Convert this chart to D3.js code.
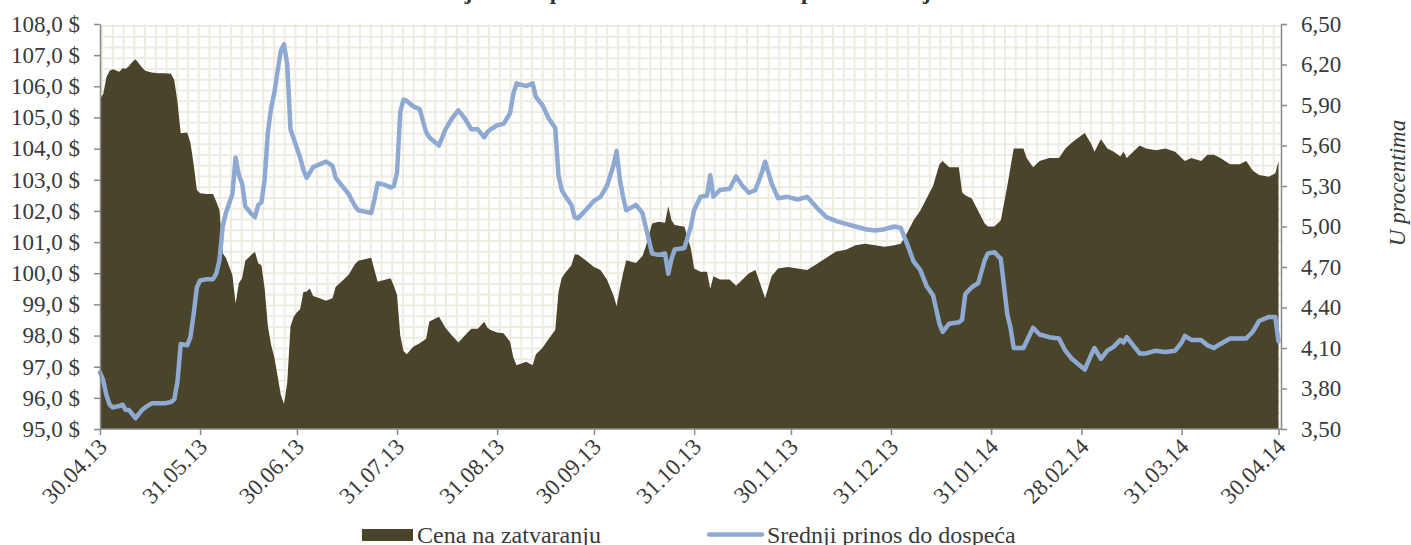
<!DOCTYPE html>
<html>
<head>
<meta charset="utf-8">
<script src="https://cdn.jsdelivr.net/npm/d3@7"></script>
<style>
  html, body { margin: 0; padding: 0; background: #fff; }
  svg { display: block; font-family: "Liberation Serif", "Times New Roman", serif; }
</style>
</head>
<body>
<svg id="chart" width="1411" height="545"></svg>
<script>
// chart data
const title = 'Kretanje cene i prinosa evroobveznice Republike Srbije';
const priceLabel = 'Cena na zatvaranju';
const yieldLabel = 'Srednji prinos do dospeća';
const rightAxisTitle = 'U procentima';

const dates = [
  '2013-04-30','2013-05-01','2013-05-02','2013-05-03','2013-05-04','2013-05-06','2013-05-07','2013-05-08','2013-05-09','2013-05-10',
  '2013-05-11','2013-05-12','2013-05-13','2013-05-14','2013-05-16','2013-05-18','2013-05-20','2013-05-22','2013-05-23','2013-05-24',
  '2013-05-25','2013-05-27','2013-05-28','2013-05-29','2013-05-30','2013-05-31','2013-06-02','2013-06-04','2013-06-05','2013-06-06',
  '2013-06-07','2013-06-08','2013-06-10','2013-06-11','2013-06-12','2013-06-13','2013-06-14','2013-06-16','2013-06-17','2013-06-18',
  '2013-06-19','2013-06-20','2013-06-21','2013-06-22','2013-06-23','2013-06-24','2013-06-25','2013-06-26','2013-06-27','2013-06-28',
  '2013-06-29','2013-06-30','2013-07-01','2013-07-02','2013-07-03','2013-07-04','2013-07-05','2013-07-07','2013-07-09','2013-07-11',
  '2013-07-12','2013-07-14','2013-07-16','2013-07-18','2013-07-19','2013-07-23','2013-07-24','2013-07-25','2013-07-27','2013-07-29',
  '2013-07-30','2013-07-31','2013-08-01','2013-08-02','2013-08-03','2013-08-05','2013-08-07','2013-08-09','2013-08-10','2013-08-13',
  '2013-08-15','2013-08-17','2013-08-19','2013-08-21','2013-08-23','2013-08-25','2013-08-27','2013-08-28','2013-08-29','2013-08-31',
  '2013-09-02','2013-09-04','2013-09-05','2013-09-06','2013-09-09','2013-09-11','2013-09-12','2013-09-14','2013-09-16','2013-09-18',
  '2013-09-19','2013-09-20','2013-09-21','2013-09-23','2013-09-24','2013-09-25','2013-09-27','2013-09-30','2013-10-02','2013-10-04',
  '2013-10-06','2013-10-07','2013-10-08','2013-10-09','2013-10-10','2013-10-13','2013-10-15','2013-10-16','2013-10-18','2013-10-20',
  '2013-10-22','2013-10-23','2013-10-24','2013-10-25','2013-10-28','2013-10-30','2013-10-31','2013-11-02','2013-11-04','2013-11-05',
  '2013-11-06','2013-11-08','2013-11-11','2013-11-13','2013-11-15','2013-11-17','2013-11-19','2013-11-21','2013-11-22','2013-11-24',
  '2013-11-26','2013-11-29','2013-12-02','2013-12-05','2013-12-08','2013-12-11','2013-12-14','2013-12-17','2013-12-20','2013-12-23',
  '2013-12-26','2013-12-29','2014-01-01','2014-01-03','2014-01-05','2014-01-07','2014-01-09','2014-01-11','2014-01-13','2014-01-15',
  '2014-01-16','2014-01-18','2014-01-21','2014-01-22','2014-01-23','2014-01-25','2014-01-27','2014-01-29','2014-01-30','2014-02-01',
  '2014-02-03','2014-02-05','2014-02-06','2014-02-07','2014-02-10','2014-02-11','2014-02-13','2014-02-15','2014-02-18','2014-02-21',
  '2014-02-23','2014-02-25','2014-02-27','2014-03-01','2014-03-03','2014-03-04','2014-03-06','2014-03-08','2014-03-10','2014-03-12',
  '2014-03-13','2014-03-14','2014-03-16','2014-03-18','2014-03-20','2014-03-23','2014-03-26','2014-03-29','2014-03-31','2014-04-01',
  '2014-04-03','2014-04-06','2014-04-08','2014-04-10','2014-04-12','2014-04-15','2014-04-18','2014-04-20','2014-04-22','2014-04-24',
  '2014-04-27','2014-04-29','2014-04-30'
];

// closing price, $
const prices = [
  105.6,105.75,106.3,106.5,106.55,106.47,106.58,106.56,106.65,106.78,
  106.87,106.74,106.6,106.5,106.44,106.42,106.42,106.4,106.2,105.5,
  104.49,104.52,104.2,103.5,102.67,102.57,102.54,102.54,102.3,102.03,
  100.64,100.5,99.94,99.03,99.68,99.84,100.4,100.6,100.69,100.32,
  100.26,99.5,98.3,97.7,97.3,96.7,96.1,95.8,96.5,98.3,
  98.6,98.75,98.85,99.4,99.41,99.51,99.27,99.2,99.12,99.2,
  99.57,99.75,99.95,100.3,100.4,100.5,100.1,99.73,99.78,99.84,
  99.6,99.3,98.0,97.5,97.4,97.64,97.75,97.9,98.45,98.6,
  98.25,98.0,97.78,98.0,98.22,98.22,98.44,98.25,98.18,98.1,
  98.07,97.8,97.3,97.05,97.16,97.05,97.4,97.6,97.9,98.18,
  99.4,99.85,100.0,100.26,100.6,100.6,100.45,100.2,100.1,99.8,
  99.3,98.95,99.5,100.0,100.42,100.33,100.55,100.85,101.6,101.65,
  101.62,102.15,101.7,101.55,101.49,100.8,100.15,100.05,100.05,99.5,
  99.9,99.8,99.8,99.6,99.8,100.0,100.1,99.5,99.2,99.9,
  100.15,100.2,100.15,100.1,100.3,100.5,100.7,100.75,100.9,100.95,
  100.9,100.85,100.9,100.95,101.3,101.7,102.0,102.4,102.8,103.5,
  103.6,103.4,103.4,102.6,102.5,102.4,102.0,101.6,101.5,101.5,
  101.7,102.8,103.4,104.0,104.0,103.7,103.4,103.6,103.7,103.7,
  104.0,104.2,104.35,104.5,104.15,103.9,104.3,104.0,103.9,103.75,
  103.9,103.7,103.9,104.1,104.0,103.95,104.0,103.9,103.7,103.6,
  103.7,103.6,103.8,103.8,103.7,103.5,103.5,103.6,103.3,103.15,
  103.1,103.2,103.6
];

// average yield to maturity, %
const yields = [
  3.92,3.86,3.75,3.68,3.66,3.67,3.68,3.64,3.64,3.61,
  3.58,3.61,3.64,3.66,3.69,3.69,3.69,3.70,3.72,3.85,
  4.13,4.12,4.18,4.35,4.55,4.60,4.61,4.61,4.65,4.75,
  5.00,5.10,5.24,5.51,5.38,5.32,5.15,5.09,5.07,5.16,
  5.18,5.35,5.70,5.88,5.99,6.15,6.30,6.35,6.20,5.72,
  5.65,5.58,5.51,5.42,5.36,5.40,5.44,5.46,5.48,5.45,
  5.36,5.30,5.24,5.15,5.12,5.10,5.20,5.32,5.31,5.29,
  5.30,5.40,5.85,5.94,5.93,5.89,5.87,5.70,5.66,5.60,
  5.72,5.80,5.86,5.80,5.72,5.72,5.66,5.70,5.72,5.75,
  5.76,5.84,5.98,6.06,6.04,6.06,5.96,5.90,5.80,5.73,
  5.38,5.27,5.23,5.16,5.07,5.06,5.11,5.19,5.22,5.30,
  5.45,5.56,5.35,5.22,5.12,5.16,5.10,5.00,4.80,4.79,
  4.80,4.65,4.76,4.83,4.84,5.00,5.12,5.22,5.23,5.38,
  5.22,5.27,5.28,5.37,5.30,5.25,5.27,5.40,5.48,5.32,
  5.21,5.22,5.20,5.22,5.14,5.07,5.04,5.02,5.00,4.98,
  4.97,4.98,5.00,4.99,4.87,4.74,4.68,4.56,4.49,4.28,
  4.22,4.28,4.29,4.31,4.50,4.55,4.58,4.75,4.80,4.81,
  4.76,4.35,4.25,4.10,4.10,4.15,4.25,4.20,4.18,4.17,
  4.08,4.02,3.98,3.94,4.05,4.10,4.02,4.08,4.11,4.16,
  4.14,4.18,4.12,4.06,4.06,4.08,4.07,4.08,4.14,4.19,
  4.16,4.16,4.12,4.10,4.13,4.17,4.17,4.17,4.22,4.30,
  4.33,4.33,4.15
];

const xTickDates = ['2013-04-30','2013-05-31','2013-06-30','2013-07-31','2013-08-31','2013-09-30',
  '2013-10-31','2013-11-30','2013-12-31','2014-01-31','2014-02-28','2014-03-31','2014-04-30'];
const priceTicks = [95, 96, 97, 98, 99, 100, 101, 102, 103, 104, 105, 106, 107, 108];
const yieldTicks = [3.5, 3.8, 4.1, 4.4, 4.7, 5.0, 5.3, 5.6, 5.9, 6.2, 6.5];

const parse = d3.timeParse('%Y-%m-%d');
const data = dates.map((d, i) => ({ date: parse(d), price: prices[i], yld: yields[i] }));

const svg = d3.select('#chart');
const plot = { left: 100, right: 1281, top: 24, bottom: 429 };
const serif = '"Liberation Serif", "Times New Roman", serif';

const x = d3.scaleTime()
  .domain([parse(xTickDates[0]), parse(xTickDates[xTickDates.length - 1])])
  .range([plot.left, 1278.5]);
const yPrice = d3.scaleLinear().domain([95, 108]).range([plot.bottom, plot.top]);
const yYield = d3.scaleLinear().domain([3.5, 6.5]).range([plot.bottom, plot.top]);

const textColor = '#3a3a3a';
const axisColor = '#8a8a8a';
const areaColor = '#4a452a';
const lineColor = '#8eaad2';

// grid pattern in the plot background
const defs = svg.append('defs');
const pat = defs.append('pattern')
  .attr('id', 'grid')
  .attr('patternUnits', 'userSpaceOnUse')
  .attr('x', 101).attr('y', 25)
  .attr('width', 10.75).attr('height', 10.75);
pat.append('rect').attr('width', 10.75).attr('height', 10.75).attr('fill', '#ffffff');
pat.append('path')
  .attr('d', 'M1,0V10.75M0,1H10.75')
  .attr('stroke', '#eeece1')
  .attr('stroke-width', 2);

svg.append('rect')
  .attr('x', plot.left).attr('y', plot.top)
  .attr('width', plot.right - plot.left).attr('height', plot.bottom - plot.top)
  .attr('fill', 'url(#grid)');

// title (sits mostly above the visible frame)
svg.append('text')
  .attr('x', 668).attr('y', -1)
  .attr('text-anchor', 'middle')
  .attr('font-weight', 'bold')
  .attr('font-size', 23)
  .attr('fill', '#333')
  .text(title);

// price area
const area = d3.area()
  .x(d => x(d.date))
  .y0(yPrice(95))
  .y1(d => yPrice(d.price));

svg.append('path')
  .datum(data)
  .attr('d', area)
  .attr('fill', areaColor);

// yield line
const line = d3.line()
  .x(d => x(d.date))
  .y(d => yYield(d.yld));

svg.append('path')
  .datum(data)
  .attr('d', line)
  .attr('fill', 'none')
  .attr('stroke', lineColor)
  .attr('stroke-width', 4.5)
  .attr('stroke-linejoin', 'round')
  .attr('stroke-linecap', 'round');

// axes
const fmtPrice = v => d3.format('.1f')(v).replace('.', ',') + ' $';
const fmtYield = v => d3.format('.2f')(v).replace('.', ',');
const fmtDate = d3.timeFormat('%d.%m.%y');

function styleAxis(g) {
  g.attr('font-family', serif);
  g.select('.domain').attr('stroke', axisColor).attr('stroke-width', 1.5);
  g.selectAll('.tick line').attr('stroke', axisColor).attr('stroke-width', 1.5);
  g.selectAll('.tick text')
    .attr('fill', textColor)
    .attr('font-size', 23)
    .attr('font-family', serif);
}

svg.append('g')
  .attr('transform', `translate(${plot.left},0)`)
  .call(d3.axisLeft(yPrice).tickValues(priceTicks).tickFormat(fmtPrice).tickSize(6).tickSizeOuter(0).tickPadding(14))
  .call(styleAxis);

svg.append('g')
  .attr('transform', `translate(${plot.right},0)`)
  .call(d3.axisRight(yYield).tickValues(yieldTicks).tickFormat(fmtYield).tickSize(6).tickSizeOuter(0).tickPadding(14))
  .call(styleAxis);

const xAxis = svg.append('g')
  .attr('transform', `translate(0,${plot.bottom})`)
  .call(d3.axisBottom(x).tickValues(xTickDates.map(parse)).tickFormat(fmtDate).tickSize(6).tickSizeOuter(0))
  .call(styleAxis);
xAxis.select('.domain').attr('d', `M${plot.left},0H${plot.right}`);
xAxis.selectAll('.tick text')
  .attr('text-anchor', 'end')
  .attr('dy', null)
  .attr('y', 0)
  .attr('transform', 'translate(8,19) rotate(-45)');

// right axis title
svg.append('text')
  .attr('transform', 'translate(1405,183) rotate(-90)')
  .attr('text-anchor', 'middle')
  .attr('font-style', 'italic')
  .attr('font-size', 23)
  .attr('fill', textColor)
  .text(rightAxisTitle);

// legend
const legend = svg.append('g').attr('font-size', 24).attr('fill', textColor);
legend.append('rect')
  .attr('x', 362).attr('y', 529).attr('width', 51).attr('height', 12)
  .attr('fill', areaColor);
legend.append('text').attr('x', 417).attr('y', 543).text(priceLabel);
legend.append('line')
  .attr('x1', 709).attr('x2', 762).attr('y1', 534.5).attr('y2', 534.5)
  .attr('stroke', lineColor).attr('stroke-width', 4.5).attr('stroke-linecap', 'round');
legend.append('text').attr('x', 767).attr('y', 543).text(yieldLabel);
</script>
</body>
</html>
